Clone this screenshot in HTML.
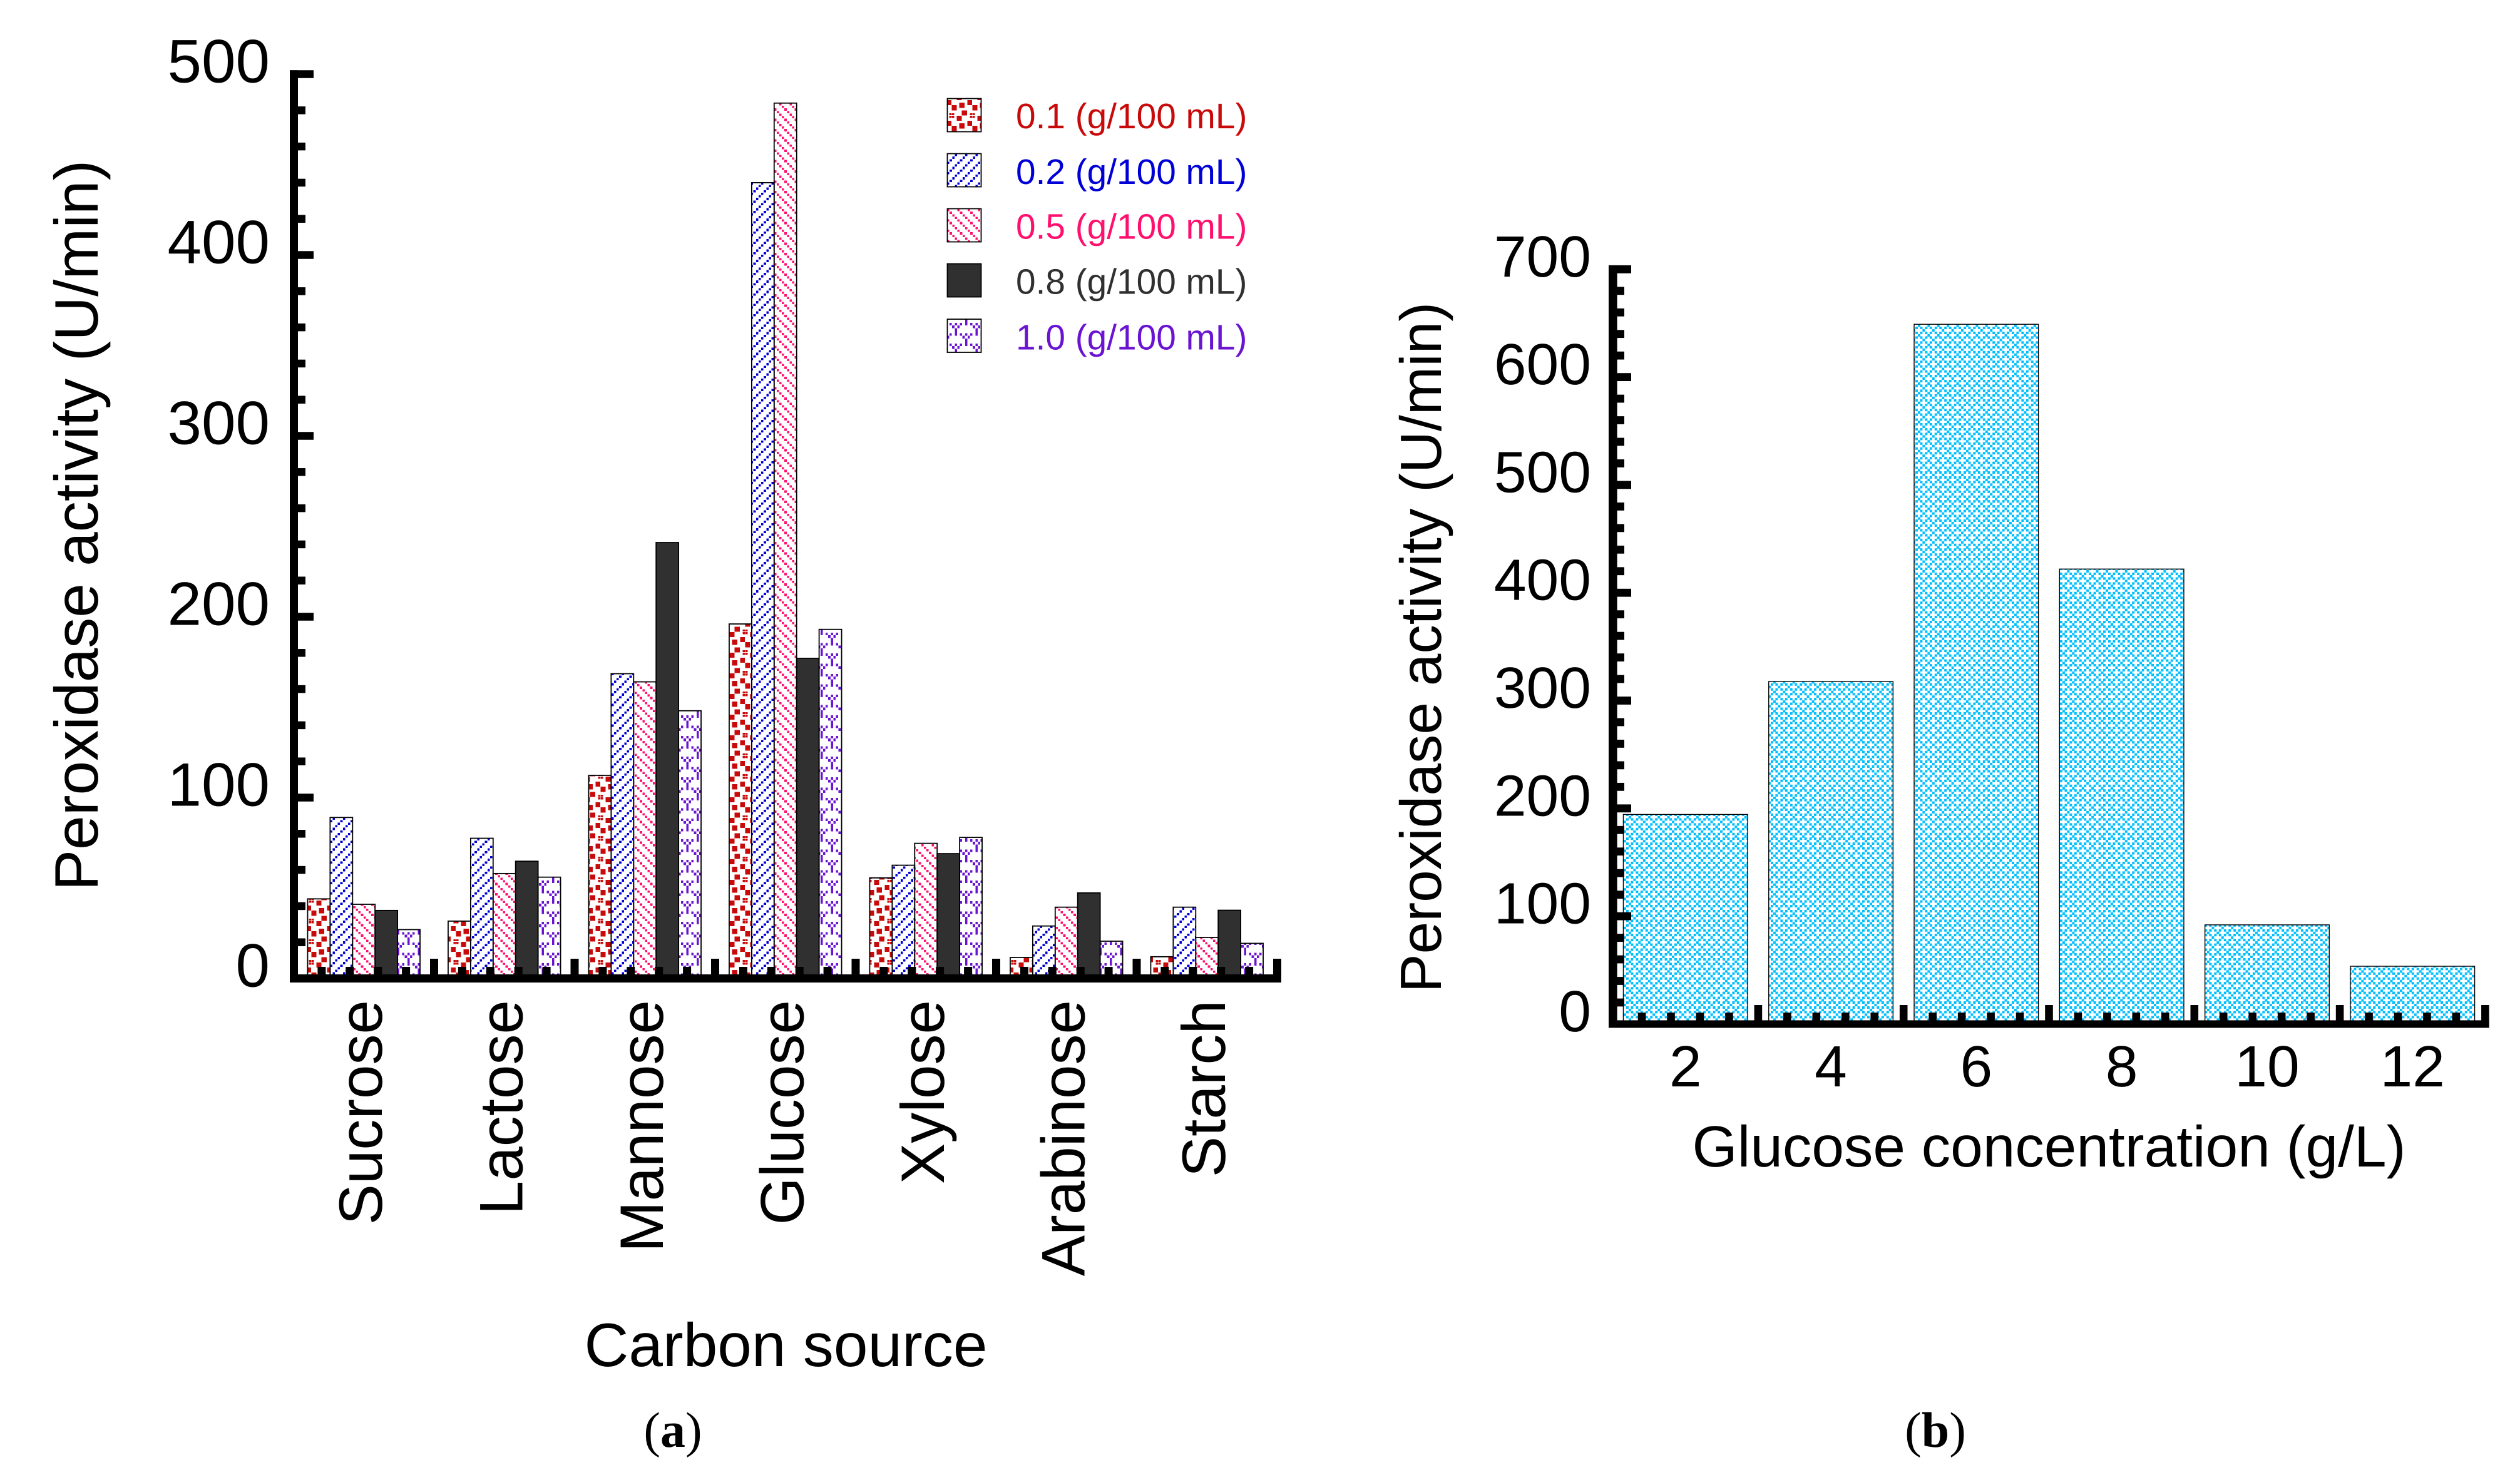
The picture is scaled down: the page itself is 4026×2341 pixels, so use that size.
<!DOCTYPE html>
<html lang="en">
<head>
<meta charset="utf-8">
<title>Peroxidase activity charts</title>
<style>
html,body{margin:0;padding:0;background:#fff;}
svg{display:block;}
text{font-family:"Liberation Sans",Arial,sans-serif;fill:#000;text-rendering:geometricPrecision;}
.serif{font-family:"Liberation Serif","Times New Roman",serif;}
</style>
</head>
<body>
<svg id="figure" xmlns="http://www.w3.org/2000/svg" width="4026" height="2341" viewBox="0 0 4026 2341">
<defs>
<pattern id="hatch-red" patternUnits="userSpaceOnUse" width="33" height="33" patternTransform="translate(1513 152)">
<g fill="#c80a0a" shape-rendering="crispEdges">
<rect x="15.7" y="0" width="8" height="8"/>
<rect x="0" y="8" width="7" height="8"/><rect x="32.7" y="8" width="0.3" height="8"/>
<rect x="7.7" y="16" width="8" height="8.5"/>
<rect x="19.7" y="12" width="8.5" height="8.5"/>
<rect x="23.7" y="24.7" width="8.5" height="7.7"/>
<rect x="3.7" y="29" width="3.4" height="3"/><rect x="7.7" y="29" width="3.8" height="3"/>
<rect x="3.7" y="0" width="3.4" height="3.6"/><rect x="7.7" y="0" width="3.8" height="3.6"/>
</g>
</pattern>
<pattern id="hatch-blue" patternUnits="userSpaceOnUse" width="16.5" height="16.5" patternTransform="translate(1513 246)">
<g fill="#0000d6" shape-rendering="crispEdges" transform="scale(4.125)">
<rect x="3" y="0" width="0.9" height="0.9"/>
<rect x="2" y="1" width="0.9" height="0.9"/>
<rect x="1" y="2" width="0.9" height="0.9"/>
<rect x="0" y="3" width="0.9" height="0.9"/>
</g>
</pattern>
<pattern id="hatch-pink" patternUnits="userSpaceOnUse" width="16.5" height="16.5" patternTransform="translate(1513 334)">
<g fill="#ff0f6e" shape-rendering="crispEdges" transform="scale(4.125)">
<rect x="0" y="0" width="0.9" height="0.9"/>
<rect x="1" y="1" width="0.9" height="0.9"/>
<rect x="2" y="2" width="0.9" height="0.9"/>
<rect x="3" y="3" width="0.9" height="0.9"/>
</g>
</pattern>
<pattern id="hatch-purple" patternUnits="userSpaceOnUse" width="33" height="33" patternTransform="translate(1517 516)">
<g fill="#6a14d2" shape-rendering="crispEdges" transform="scale(4.125)">
<rect x="0" y="0" width="0.9" height="1"/><rect x="2" y="0" width="0.9" height="1"/><rect x="4" y="0" width="0.9" height="1"/><rect x="6" y="0" width="0.9" height="1"/>
<rect x="1" y="1" width="0.9" height="1"/><rect x="3" y="1" width="0.9" height="1"/>
<rect x="2" y="2" width="0.9" height="2"/>
<rect x="0" y="4" width="0.9" height="1"/><rect x="2" y="4" width="0.9" height="1"/><rect x="4" y="4" width="0.9" height="1"/><rect x="6" y="4" width="0.9" height="1"/>
<rect x="5" y="5" width="0.9" height="1"/><rect x="7" y="5" width="0.9" height="1"/>
<rect x="6" y="6" width="0.9" height="2"/>
</g>
</pattern>
<pattern id="hatch-cyan" patternUnits="userSpaceOnUse" width="15.4" height="15.4" patternTransform="translate(2594 1296)">
<g fill="#00bfff" shape-rendering="crispEdges" transform="scale(3.85)">
<rect x="0" y="0" width="1.05" height="1.05"/>
<rect x="1" y="1" width="1.05" height="1.05"/><rect x="3" y="1" width="1" height="1.05"/>
<rect x="2" y="2" width="1.05" height="1.05"/>
<rect x="1" y="3" width="1.05" height="1"/><rect x="3" y="3" width="1" height="1"/>
</g>
</pattern>
</defs>

<g id="chart-a">
  <g id="bars-a"></g>
  <g id="axes-a"></g>
  <text transform="translate(156 839.5) rotate(-90)" text-anchor="middle" font-size="98.2">Peroxidase activity (U/min)</text>
  <text x="1255.5" y="2183" text-anchor="middle" font-size="98.2">Carbon source</text>
  <g>
    <g>
      <rect x="1513.5" y="157.5" width="54" height="53" fill="url(#hatch-red)" stroke="#000" stroke-width="1.8"/>
      <text x="1623" y="205" font-size="56.8" style="fill:#c80a0a">0.1 (g/100 mL)</text>
    </g>
    <g>
      <rect x="1513.5" y="245.5" width="54" height="53" fill="url(#hatch-blue)" stroke="#000" stroke-width="1.8"/>
      <text x="1623" y="294" font-size="56.8" style="fill:#0000d6">0.2 (g/100 mL)</text>
    </g>
    <g>
      <rect x="1513.5" y="333.5" width="54" height="53" fill="url(#hatch-pink)" stroke="#000" stroke-width="1.8"/>
      <text x="1623" y="381.7" font-size="56.8" style="fill:#ff0f6e">0.5 (g/100 mL)</text>
    </g>
    <g>
      <rect x="1513.5" y="421.5" width="54" height="53" fill="#303030" stroke="#000" stroke-width="1.8"/>
      <text x="1623" y="469.3" font-size="56.8" style="fill:#303030">0.8 (g/100 mL)</text>
    </g>
    <g>
      <rect x="1513.5" y="510" width="54" height="53" fill="url(#hatch-purple)" stroke="#000" stroke-width="1.8"/>
      <text x="1623" y="558.3" font-size="56.8" style="fill:#6a14d2">1.0 (g/100 mL)</text>
    </g>
  </g>
  <text class="serif" x="1075" y="2312" text-anchor="middle" font-size="80">(<tspan font-weight="bold">a</tspan>)</text>
</g>

<g id="chart-b">
  <g id="bars-b"></g>
  <g id="axes-b"></g>
  <text transform="translate(2302 1034.5) rotate(-90)" text-anchor="middle" font-size="92.8">Peroxidase activity (U/min)</text>
  <text x="3273.5" y="1864" text-anchor="middle" font-size="92.8">Glucose concentration (g/L)</text>
  <text class="serif" x="3092" y="2312" text-anchor="middle" font-size="80">(<tspan font-weight="bold">b</tspan>)</text>
</g>
</svg>

<script>
// ---- Chart (a) data ----
const categoriesA = ['Sucrose', 'Lactose', 'Mannose', 'Glucose', 'Xylose', 'Arabinose', 'Starch'];
const seriesNames = ['0-1', '0-2', '0-5', '0-8', '1-0'];
const seriesFills = ['url(#hatch-red)', 'url(#hatch-blue)', 'url(#hatch-pink)', '#303030', 'url(#hatch-purple)'];
const values01 = [44, 31.7, 112.3, 196, 55.6, 11.6, 12];
const values02 = [89, 77.5, 168.5, 440, 62.6, 29, 39.4];
const values05 = [41, 58, 164, 484, 74.7, 39.4, 22.7];
const values08 = [37.6, 64.8, 241, 177, 69, 47.3, 37.7];
const values10 = [27, 56, 148, 193, 78, 20.6, 19.4];
const yTickLabelsA = [0, 100, 200, 300, 400, 500];

// ---- Chart (b) data ----
const categoriesB = ['2', '4', '6', '8', '10', '12'];
const valuesB = [194.4, 317.7, 649, 422, 92, 53.6];
const yTickLabelsB = [0, 100, 200, 300, 400, 500, 600, 700];

// ---- Axis functions ----
const xA = function (i) { return 469 + 224.5 * i; };
const yA = function (v) { return 1563.5 - 2.89 * v; };
const xB = function (i) { return 2576.6 + 232.3 * i; };
const yB = function (v) { return 1636.4 - 1.723 * v; };

const NS = 'http://www.w3.org/2000/svg';
const allSeries = [values01, values02, values05, values08, values10];

function makeRect(parent, x, y, w, h, fill) {
  const r = document.createElementNS(NS, 'rect');
  r.setAttribute('x', x);
  r.setAttribute('y', y);
  r.setAttribute('width', w);
  r.setAttribute('height', h);
  r.setAttribute('fill', fill);
  parent.appendChild(r);
  return r;
}

function makeText(parent, str, x, y, size, anchor) {
  const t = document.createElementNS(NS, 'text');
  t.setAttribute('x', x);
  t.setAttribute('y', y);
  t.setAttribute('font-size', size);
  t.setAttribute('text-anchor', anchor);
  t.textContent = str;
  parent.appendChild(t);
  return t;
}

function slug(s) { return String(s).toLowerCase(); }

// ---- Bars (a) ----
const barsA = document.getElementById('bars-a');
const bandA = xA(1) - xA(0);
const barWA = bandA * 0.8 / seriesNames.length;
allSeries.forEach(function (vals, s) {
  vals.forEach(function (v, c) {
    const left = xA(c) + bandA * 0.1 + s * barWA;
    const bar = makeRect(barsA, left, yA(v), barWA, yA(0) - yA(v), seriesFills[s]);
    bar.setAttribute('stroke', '#000');
    bar.setAttribute('stroke-width', '1.8');
    
    
  });
});

// ---- Axes (a) ----
const axesA = document.getElementById('axes-a');
const spineA = makeRect(axesA, 463, yA(500) - 6.25, 13, yA(0) - yA(500) + 12.75, '#000');


const baseA = makeRect(axesA, 463, yA(0) - 6.5, xA(categoriesA.length) + 6.5 - 463, 13, '#000');



yTickLabelsA.forEach(function (v, idx) {
  if (v > 0) {
    const tick = makeRect(axesA, 463, yA(v) - 6.25, 38, 12.5, '#000');
    
    
  }
  const label = makeText(axesA, String(v), 431, yA(v) + 13, 98, 'end');
  
  
  if (idx < yTickLabelsA.length - 1) {
    for (let k = 1; k < 5; k++) {
      const minor = makeRect(axesA, 463, yA(v + k * 20) - 6.25, 25, 12.5, '#000');
      
      
    }
  }
});

categoriesA.forEach(function (name, i) {
  for (let k = 1; k < 5; k++) {
    const minor = makeRect(axesA, xA(i + k / 5) - 6.5, 1545, 13, 14, '#000');
    
    
  }
  const major = makeRect(axesA, xA(i + 1) - 6.5, 1532, 13, 27, '#000');
  
  
  const t = makeText(axesA, name, 0, 0, 98, 'end');
  t.setAttribute('transform', 'translate(' + (xA(i + 0.5) + 28.5) + ' 1598) rotate(-90)');
  
  
});

// ---- Bars (b) ----
const barsB = document.getElementById('bars-b');
const bandB = xB(1) - xB(0);
const barWB = bandB * 0.855;
valuesB.forEach(function (v, i) {
  const left = xB(i + 0.5) - barWB / 2;
  const bar = makeRect(barsB, left, yB(v), barWB, yB(0) - yB(v), 'url(#hatch-cyan)');
  bar.setAttribute('stroke', '#000');
  bar.setAttribute('stroke-width', '1.4');
  
  
});

// ---- Axes (b) ----
const axesB = document.getElementById('axes-b');
const spineB = makeRect(axesB, 2570, yB(700) - 6.4, 13.6, yB(0) - yB(700) + 12, '#000');


const baseB = makeRect(axesB, 2570, yB(0) - 6, xB(categoriesB.length) + 6.4 - 2570, 12, '#000');



yTickLabelsB.forEach(function (v, idx) {
  if (v > 0) {
    const tick = makeRect(axesB, 2570, yB(v) - 6.4, 36, 12.8, '#000');
    
    
  }
  const label = makeText(axesB, String(v), 2542, yB(v) + 11.5, 93, 'end');
  
  
  if (idx < yTickLabelsB.length - 1) {
    for (let k = 1; k < 5; k++) {
      const minor = makeRect(axesB, 2570, yB(v + k * 20) - 6.4, 25, 12.8, '#000');
      
      
    }
  }
});

categoriesB.forEach(function (name, i) {
  for (let k = 1; k < 5; k++) {
    const minor = makeRect(axesB, xB(i + k / 5) - 6.3, 1618, 12.6, 13, '#000');
    
    
  }
  const major = makeRect(axesB, xB(i + 1) - 6.3, 1606, 12.6, 25, '#000');
  
  
  const t = makeText(axesB, name, xB(i + 0.5), 1736, 93, 'middle');
  
  
});
</script>
</body>
</html>
